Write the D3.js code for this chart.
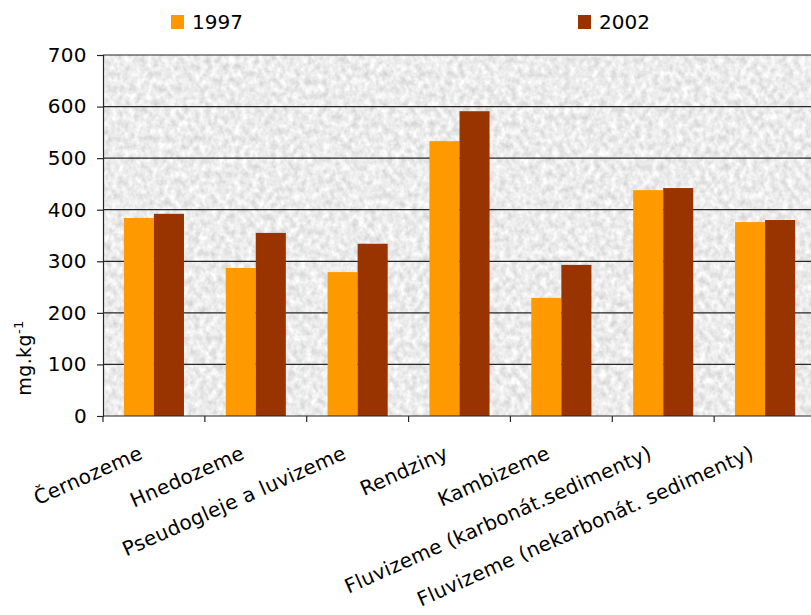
<!DOCTYPE html>
<html>
<head>
<meta charset="utf-8">
<script src="https://cdn.jsdelivr.net/npm/d3@7"></script>
<style>
  html, body { margin: 0; padding: 0; background: #fff; }
  svg { display: block; }
  text { font-family: "DejaVu Sans", Verdana, sans-serif; fill: #000; }
</style>
</head>
<body>
<svg id="chart" width="811" height="615"></svg>
<script>
// Soil types and mean values (mg.kg-1) for the two survey years
const categories = [
  "Černozeme",
  "Hnedozeme",
  "Pseudogleje a luvizeme",
  "Rendziny",
  "Kambizeme",
  "Fluvizeme (karbonát.sedimenty)",
  "Fluvizeme (nekarbonát. sedimenty)"
];
const seriesNames = ["1997", "2002"];
const values1997 = [384, 287, 279, 533, 229, 438, 376];
const values2002 = [392, 355, 334, 591, 293, 442, 380];
const yTicks = [0, 100, 200, 300, 400, 500, 600, 700];
const colors = ["#FF9900", "#993300"];

(function () {
  const seriesValues = [values1997, values2002];
  const rows = categories.map((c, i) => ({
    category: c,
    values: seriesNames.map((s, j) => ({ key: s, value: seriesValues[j][i], color: colors[j] }))
  }));

  const svg = d3.select("#chart");
  const plotL = 103, plotR = 816, plotT = 55, plotB = 416;

  const x = d3.scaleBand().domain(categories).range([plotL, plotR])
    .paddingInner(0.41).paddingOuter(0.205);
  const x1 = d3.scaleBand().domain(seriesNames).range([0, x.bandwidth()]).padding(0);
  const y = d3.scaleLinear().domain([0, 700]).range([plotB, plotT]);

  // Textured plot background
  const defs = svg.append("defs");
  const filt = defs.append("filter").attr("id", "grain")
    .attr("x", 0).attr("y", 0).attr("width", 1).attr("height", 1)
    .attr("color-interpolation-filters", "sRGB");
  filt.append("feTurbulence").attr("type", "fractalNoise")
    .attr("baseFrequency", "0.17 0.14").attr("numOctaves", 3).attr("seed", 7).attr("result", "n");
  filt.append("feColorMatrix").attr("type", "matrix")
    .attr("values", "0.26 0 0 0 0.795  0.26 0 0 0 0.795  0.26 0 0 0 0.795  0 0 0 0 1");
  defs.append("clipPath").attr("id", "plotclip").append("rect")
    .attr("x", plotL).attr("y", plotT).attr("width", plotR - plotL).attr("height", plotB - plotT);

  svg.append("rect")
    .attr("x", plotL).attr("y", plotT).attr("width", plotR - plotL).attr("height", plotB - plotT)
    .attr("fill", "#ececec").attr("filter", "url(#grain)");

  // Horizontal gridlines
  svg.append("g").selectAll("line").data(yTicks.filter(d => d > 0)).join("line")
    .attr("x1", plotL).attr("x2", plotR)
    .attr("y1", d => y(d)).attr("y2", d => y(d))
    .attr("stroke", "#262626").attr("stroke-width", 1.2);

  // Bars
  const groups = svg.append("g").attr("clip-path", "url(#plotclip)")
    .selectAll("g").data(rows).join("g")
    .attr("transform", d => `translate(${x(d.category)},0)`);
  groups.selectAll("rect").data(d => d.values).join("rect")
    .attr("x", d => x1(d.key))
    .attr("width", x1.bandwidth())
    .attr("y", d => y(d.value))
    .attr("height", d => y(0) - y(d.value))
    .attr("fill", d => d.color);

  // Y axis
  const yAxis = svg.append("g").attr("transform", `translate(${plotL},0)`)
    .call(d3.axisLeft(y).tickValues(yTicks).tickSize(6).tickPadding(10));
  yAxis.select(".domain").attr("stroke", "#262626").attr("stroke-width", 1.2);
  yAxis.selectAll(".tick line").attr("stroke", "#262626").attr("stroke-width", 1.2);
  yAxis.selectAll(".tick text").attr("font-size", 20).attr("letter-spacing", 0.4)
    .attr("font-family", "DejaVu Sans, Verdana, sans-serif").attr("fill", "#000");

  // X axis line with category boundary ticks
  const xAxisG = svg.append("g");
  xAxisG.append("line").attr("x1", plotL).attr("x2", plotR).attr("y1", plotB).attr("y2", plotB)
    .attr("stroke", "#262626").attr("stroke-width", 1.2);
  xAxisG.selectAll("line.tk").data(d3.range(categories.length + 1)).join("line")
    .attr("class", "tk")
    .attr("x1", i => plotL + x.step() * i).attr("x2", i => plotL + x.step() * i)
    .attr("y1", plotB).attr("y2", plotB + 6)
    .attr("stroke", "#262626").attr("stroke-width", 1.2);

  // Rotated category labels
  svg.append("g").selectAll("text").data(categories).join("text")
    .attr("transform", d => `translate(${x(d) + x.bandwidth() / 2 - 10},458) rotate(-24)`)
    .attr("text-anchor", "end")
    .attr("font-size", 20)
    .attr("letter-spacing", 0.3)
    .text(d => d);

  // Y axis title
  const yt = svg.append("text")
    .attr("transform", "translate(31,358) rotate(-90)")
    .attr("text-anchor", "middle")
    .attr("font-size", 19)
    .attr("letter-spacing", 0.4);
  yt.append("tspan").text("mg.kg");
  yt.append("tspan").attr("font-size", 13).attr("dy", -8).text("-1");

  // Legend
  const legendX = [171, 578];
  const lg = svg.append("g").selectAll("g").data(seriesNames).join("g")
    .attr("transform", (d, i) => `translate(${legendX[i]},15)`);
  lg.append("rect").attr("width", 13).attr("height", 14).attr("fill", (d, i) => colors[i]);
  lg.append("text").attr("x", 21).attr("y", 14).attr("font-size", 20).text(d => d);
})();
</script>
</body>
</html>
